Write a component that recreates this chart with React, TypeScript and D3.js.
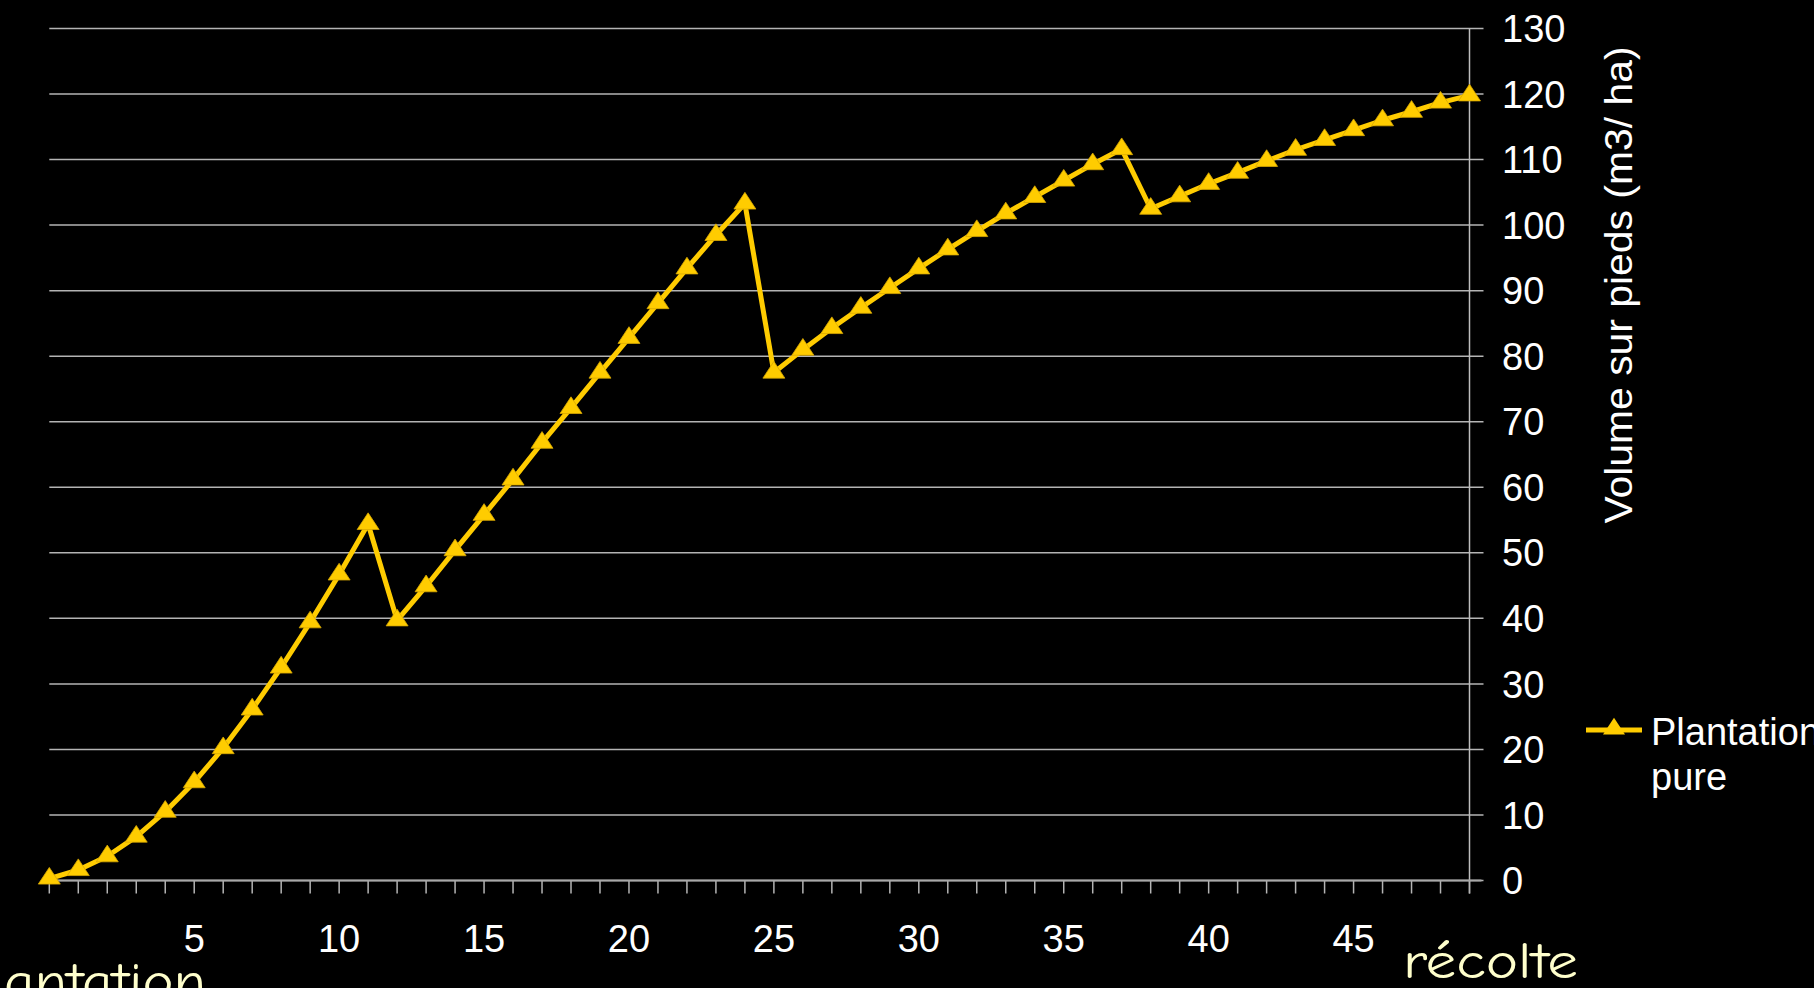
import React from "react";
import * as d3 from "d3";

const years: number[] = Array.from({ length: 50 }, (_, i) => i);
const volume: number[] = [
  0.3, 1.6, 3.7, 6.7, 10.5, 15.0, 20.2, 26.1, 32.5, 39.4,
  46.7, 54.4, 39.7, 44.9, 50.4, 55.8, 61.2, 66.8, 72.1, 77.5,
  82.8, 88.1, 93.4, 98.5, 103.3, 77.5, 81.0, 84.3, 87.4, 90.4,
  93.4, 96.3, 99.1, 101.8, 104.3, 106.8, 109.3, 111.6, 102.5, 104.4,
  106.3, 108.0, 109.8, 111.5, 113.0, 114.5, 116.0, 117.3, 118.7, 119.8,
];
const xTickLabels: number[] = [5, 10, 15, 20, 25, 30, 35, 40, 45];
const yTicks: number[] = [0, 10, 20, 30, 40, 50, 60, 70, 80, 90, 100, 110, 120, 130];
const seriesName: string[] = ["Plantation", "pure"];
const yTitle = "Volume sur pieds (m3/ ha)";
const startLabel = "plantation";
const endLabel = "récolte";

const W = 1814;
const H = 988;
const YELLOW = "#FFCC00";
const FONT = "Arial, 'Liberation Sans', Helvetica, sans-serif";
const COMIC = "'Comic Sans MS', 'Comic Neue', cursive";

export default function App() {
  const x = d3.scaleLinear().domain([0, 49]).range([49.3, 1469.5]);
  const y = d3.scaleLinear().domain([0, 130]).range([880.5, 28.5]);
  const line = d3
    .line<number>()
    .x((_, i) => x(years[i]))
    .y((d) => y(d));
  const tri = d3.symbol(d3.symbolTriangle, 190)() as string;

  return (
    <svg
      width={W}
      height={H}
      style={{ position: "fixed", left: 0, top: 0, background: "#000", display: "block" }}
    >
      <rect x={0} y={0} width={W} height={H} fill="#000" />
      {/* gridlines */}
      {yTicks.map((t) => (
        <line
          key={"g" + t}
          x1={x(0)}
          x2={x(49) + 14}
          y1={y(t)}
          y2={y(t)}
          stroke="#b4b4b4"
          strokeWidth={1.5}
        />
      ))}
      {/* y axis (right) */}
      <line x1={x(49)} x2={x(49)} y1={y(130)} y2={y(0) + 13} stroke="#bdbdbd" strokeWidth={1.5} />
      {/* x axis ticks */}
      {years.map((yr) => (
        <line
          key={"xt" + yr}
          x1={x(yr)}
          x2={x(yr)}
          y1={y(0)}
          y2={y(0) + 13}
          stroke="#b4b4b4"
          strokeWidth={1.5}
        />
      ))}
      <line x1={x(0)} x2={x(49) + 12} y1={y(0)} y2={y(0)} stroke="#a8a8a8" strokeWidth={2} />
      {/* x labels */}
      {xTickLabels.map((t) => (
        <text
          key={"xl" + t}
          x={x(t)}
          y={952}
          textAnchor="middle"
          fill="#fff"
          fontFamily={FONT}
          fontSize={38}
        >
          {t}
        </text>
      ))}
      {/* y labels */}
      {yTicks.map((t) => (
        <text
          key={"yl" + t}
          x={1502}
          y={y(t)}
          dy="0.36em"
          textAnchor="start"
          fill="#fff"
          fontFamily={FONT}
          fontSize={38}
        >
          {t}
        </text>
      ))}
      {/* y title */}
      <text
        transform={`translate(1632, 285) rotate(-90)`}
        textAnchor="middle"
        fill="#fff"
        fontFamily={FONT}
        fontSize={39}
        textLength={477}
        lengthAdjust="spacingAndGlyphs"
      >
        {yTitle}
      </text>
      {/* series */}
      <path d={line(volume) || ""} fill="none" stroke={YELLOW} strokeWidth={5} strokeLinejoin="round" />
      {volume.map((v, i) => (
        <path
          key={"m" + i}
          d={tri}
          transform={`translate(${x(years[i])}, ${y(v)}) scale(1.05, 0.92)`}
          fill={YELLOW}
          stroke="#d9a800"
          strokeWidth={0.8}
        />
      ))}
      {/* legend */}
      <line x1={1586} x2={1642} y1={730} y2={730} stroke={YELLOW} strokeWidth={5} />
      <path d={tri} transform="translate(1614, 729) scale(1.05, 0.92)" fill={YELLOW} />
      <text x={1651} y={745} fill="#fff" fontFamily={FONT} fontSize={38}>
        {seriesName[0]}
      </text>
      <text x={1651} y={790} fill="#fff" fontFamily={FONT} fontSize={38}>
        {seriesName[1]}
      </text>
      {/* bottom annotations */}
      <text
        x={-40}
        y={998}
        fill="#FFFFCC"
        fontFamily={COMIC}
        fontSize={50}
        textLength={246}
        lengthAdjust="spacingAndGlyphs"
      >
        {startLabel}
      </text>
      <text
        x={1403}
        y={978}
        fill="#FFFFCC"
        fontFamily={COMIC}
        fontSize={50}
        textLength={175}
        lengthAdjust="spacingAndGlyphs"
      >
        {endLabel}
      </text>
    </svg>
  );
}
